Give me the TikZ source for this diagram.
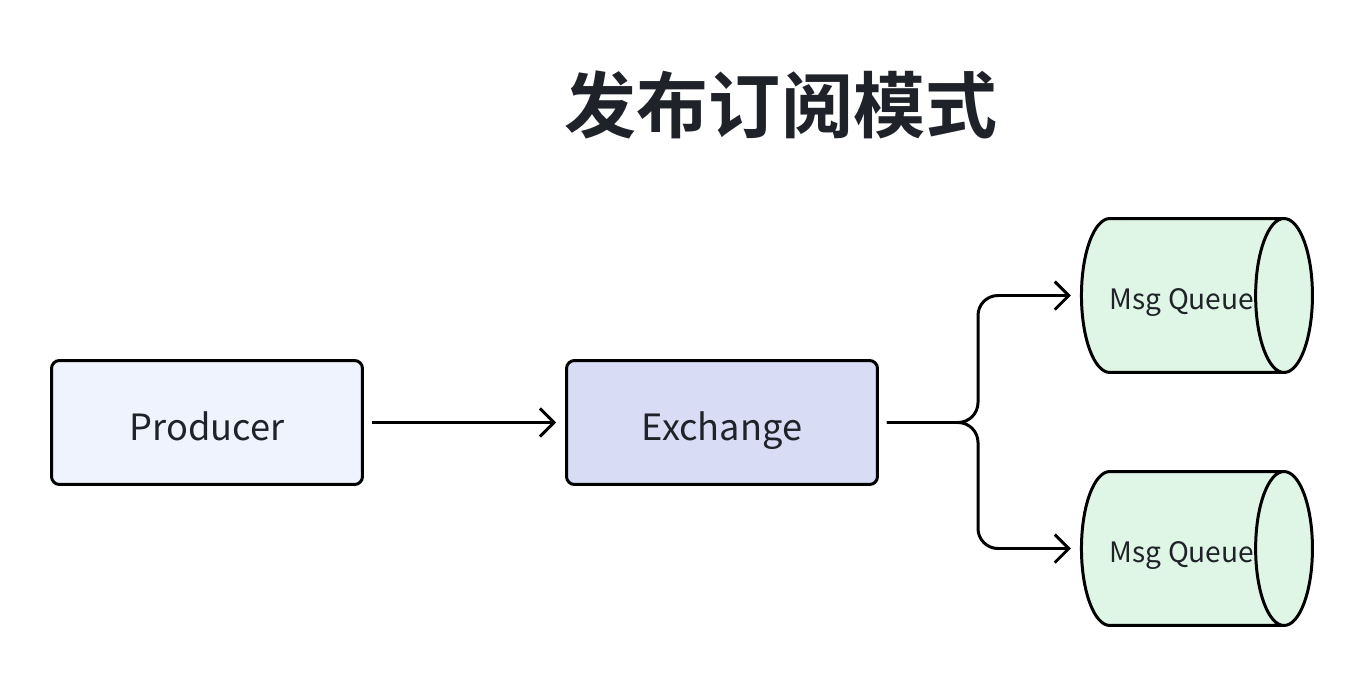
\documentclass[tikz,border=0pt]{standalone}
\usepackage{fontspec}
\setmainfont{Noto Sans CJK SC}[BoldFont={* Bold}]
\usetikzlibrary{shapes.geometric,arrows.meta}
\definecolor{ink}{HTML}{1F2329}
\definecolor{prodfill}{HTML}{EFF3FD}
\definecolor{exfill}{HTML}{D8DCF4}
\definecolor{qfill}{HTML}{DFF5E5}

\begin{document}
\begin{tikzpicture}[x=0.02cm,y=-0.02cm,
	box/.style={draw=black, line width=1.7pt, rounded corners=4.5pt, minimum width=6.22cm, minimum height=2.48cm, text=ink, text height=20pt, text depth=0pt, font=\fontsize{20.6}{20.6}\selectfont},
	queue/.style={cylinder, draw=black, fill=qfill, line width=1.7pt, minimum height=4.1cm, minimum width=3.08cm, aspect=2.1, inner sep=0pt, text=ink, text height=15.4pt, text depth=0pt, font=\fontsize{16}{16}\selectfont},
	link/.style={line width=1.7pt, -{Straight Barb[length=8pt,width=16pt]}, shorten <=8*0.02cm, shorten >=9*0.02cm}]
	\useasboundingbox (0,0) rectangle (1366,676);
	
	\node[text=ink, font=\bfseries\fontsize{41}{41}\selectfont] (title) at (781,105) {发布订阅模式};
	
		\node[box, fill=prodfill] (prod) at (207,422.5) {Producer};
		\node[box, fill=exfill] (ex) at (722,422.5) {Exchange};
		
		\node[queue] (q1) at (1182,295.5) {Msg Queue\hspace{31pt}};
		\node[queue] (q2) at (1182,548.5) {Msg Queue\hspace{31pt}};
		
		\coordinate (fork) at (978,422.5);
		
		\draw[link] (prod) -- (ex);
		\draw[link, rounded corners=20*0.02cm] (ex.east) -- (fork) |- (q1.west);
		\draw[link, rounded corners=20*0.02cm] (ex.east) -- (fork) |- (q2.west);
	
\end{tikzpicture}
\end{document}
